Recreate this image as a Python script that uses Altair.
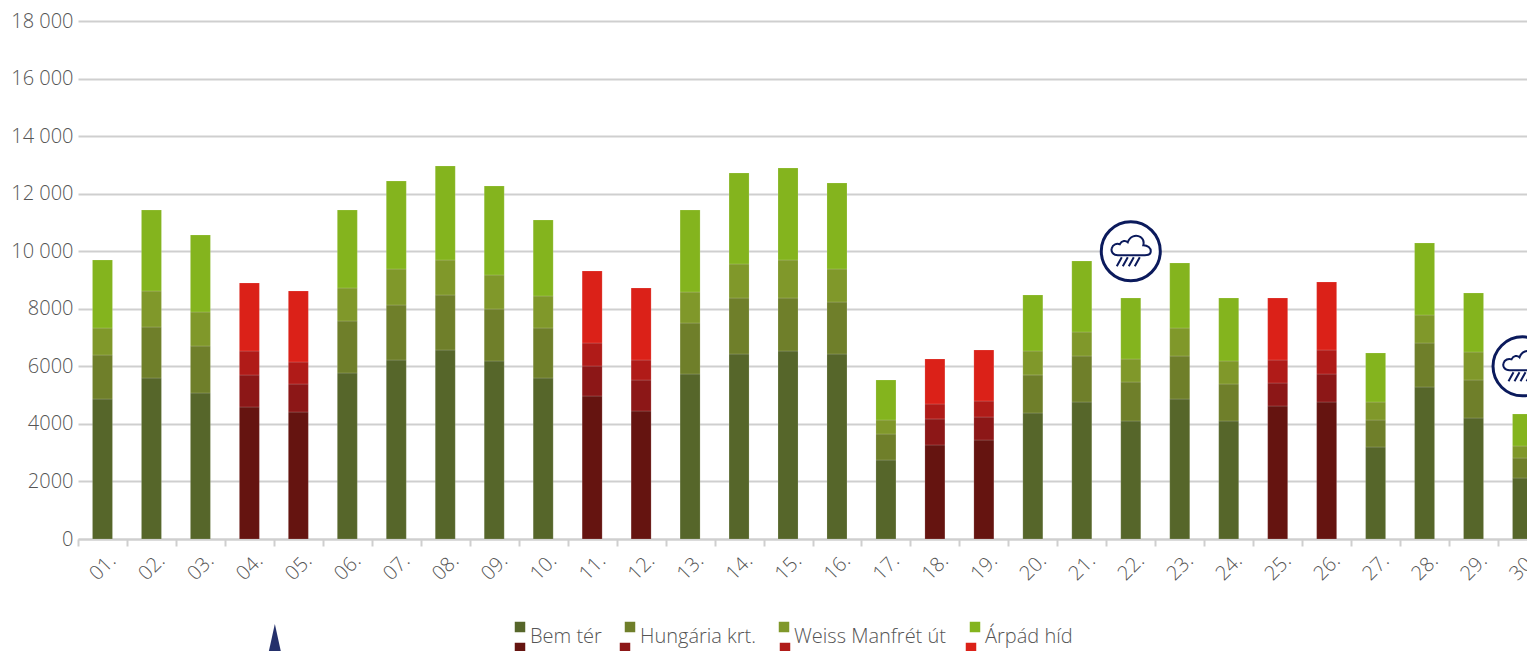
import re
import altair as alt
import pandas as pd

days = [f"{i:02d}." for i in range(1, 31)]
series = ["Bem tér", "Hungária krt.", "Weiss Manfrét út", "Árpád híd"]
bem = [4865,5595,5074,4587,4413,5769,6220,6568,6186,5595,4969,4448,5734,6429,6533,6429,2745,3267,3440,4379,4761,4101,4865,4101,4622,4761,3197,5282,4205,2120]
hungaria = [1529,1772,1633,1112,973,1807,1911,1911,1807,1738,1043,1077,1772,1946,1842,1807,904,904,799,1321,1599,1355,1494,1286,799,973,938,1529,1321,695]
weiss = [938,1251,1182,834,765,1147,1251,1216,1182,1112,799,695,1077,1182,1321,1147,487,521,556,834,834,799,973,799,799,834,626,973,973,417]
arpad = [2363,2815,2676,2363,2467,2711,3058,3267,3093,2641,2502,2502,2850,3162,3197,2989,1390,1564,1772,1946,2467,2120,2259,2189,2155,2363,1703,2502,2050,1112]
red_days = ["04.","05.","11.","12.","18.","19.","25.","26."]
rain_days = ["22.","30."]
rain_levels = [10000, 6000]
y_ticks = [0,2000,4000,6000,8000,10000,12000,14000,16000,18000]
greens = ["#56662a", "#6f7f2a", "#80982a", "#84b41e"]
reds = ["#651410", "#8c1717", "#b01b18", "#db2118"]
red_key_offsets = [442, 547, 707, 893]

FONT = "Open Sans"
TXT = "#555555"
GRID = "#cfcfcf"
NAVY = "#0b1a5c"

rows = []
for i, d in enumerate(days):
    for k, (s, vals) in enumerate(zip(series, [bem, hungaria, weiss, arpad])):
        rows.append({"day": d, "series": s, "k": k, "value": vals[i], "red": d in red_days})
df = pd.DataFrame(rows)

x = alt.X("day:N", sort=days, scale=alt.Scale(paddingInner=0, paddingOuter=0, range=[0, 1469]),
          axis=alt.Axis(title=None, labelAngle=315, labelAlign="center", labelBaseline="middle",
                        labelFont=FONT, labelFontSize=20, labelFontWeight=300, labelColor=TXT, labelPadding=21,
                        tickBand="extent", tickColor=GRID, tickWidth=2, tickSize=7,
                        domainColor=GRID, domainWidth=2, grid=False))
y = alt.Y("value:Q", stack="zero", scale=alt.Scale(domain=[0, 18000], nice=False),
          axis=alt.Axis(title=None, values=y_ticks, domain=False, ticks=False, gridColor=GRID, gridWidth=2,
                        labelFont=FONT, labelFontSize=20, labelFontWeight=300, labelColor=TXT, labelPadding=5,
                        labelExpr="datum.value >= 10000 ? replace(format(datum.value, ','), ',', ' ') : format(datum.value, 'd')"))


def bars(flag, colours, legend):
    return (
        alt.Chart(df[df.red == flag])
        .mark_bar(size=20, stroke="#ffffff", strokeOpacity=0.15, strokeWidth=1)
        .encode(
            x=x, y=y, order=alt.Order("k:Q", sort="ascending"),
            color=alt.Color("series:N", sort=series,
                            scale=alt.Scale(domain=series, range=colours),
                            legend=legend),
        )
    )


green_legend = alt.Legend(title=None, orient="none", legendX=432, legendY=596,
                          direction="horizontal", columns=4, symbolType="square",
                          symbolSize=110, symbolStrokeWidth=0, columnPadding=18,
                          labelFont=FONT, labelFontSize=20, labelFontWeight=300,
                          labelColor=TXT, labelBaseline="top", labelOffset=0)

red_keys = (
    alt.Chart(pd.DataFrame({"colour": reds, "px": red_key_offsets}))
    .mark_point(shape="square", size=110, filled=True, strokeWidth=0, opacity=1)
    .encode(x=alt.X("px:Q", scale=None), y=alt.value(627), fill=alt.Fill("colour:N", scale=None))
)


def to_units(path, r=30.0):
    return re.sub(r"-?\d+(?:\.\d+)?", lambda m: f"{float(m.group()) / r:.4f}", path)


cloud = to_units(
    "M-13,4 C-18,4 -20,0 -19,-3 C-18,-7 -14,-8 -11,-7 C-9,-11 -5,-11 -3,-9 C-1,-15 5,-17 10,-14 "
    "C13,-12 13,-8 12.5,-6 C17,-6 20,-3 20,0 C20,3 17,4 14,4 Z "
    "M-14,15 L-9,6 M-8,15 L-3,6 M-2,15 L3,6 M4,15 L9,6"
)
rain = pd.DataFrame({"day": rain_days, "value": rain_levels})
rain_x = alt.X("day:N", sort=days)
rain_y = alt.Y("value:Q")
disc = alt.Chart(rain).mark_point(shape="circle", size=3481, filled=True, fill="white", stroke=NAVY,
                                  strokeWidth=3, opacity=1).encode(x=rain_x, y=rain_y)
glyph = alt.Chart(rain).mark_point(shape=cloud, size=3600, filled=False, stroke=NAVY,
                                   strokeWidth=2, opacity=1).encode(x=rain_x, y=rain_y)

arrow = (
    alt.Chart(pd.DataFrame({"day": ["05."], "value": [-4170]}))
    .mark_point(shape="M0,-1 L0.44,1 L-0.44,1 Z", size=4900, filled=True, fill="#24306b", strokeWidth=0, opacity=1)
    .encode(x=alt.X("day:N", sort=days, bandPosition=0.02), y=alt.Y("value:Q"))
)

chart = (
    alt.layer(bars(False, greens, green_legend), bars(True, reds, None), disc, glyph, arrow, red_keys)
    .resolve_scale(color="independent", x="shared")
    .properties(width=1449, height=518, padding={"left": 70, "top": 13, "right": 0, "bottom": 130},
                autosize=alt.AutoSizeParams(type="none"), background="white")
    .configure_view(stroke=None)
)
chart.save("out.html", embed_options={"renderer": "svg", "actions": False})
